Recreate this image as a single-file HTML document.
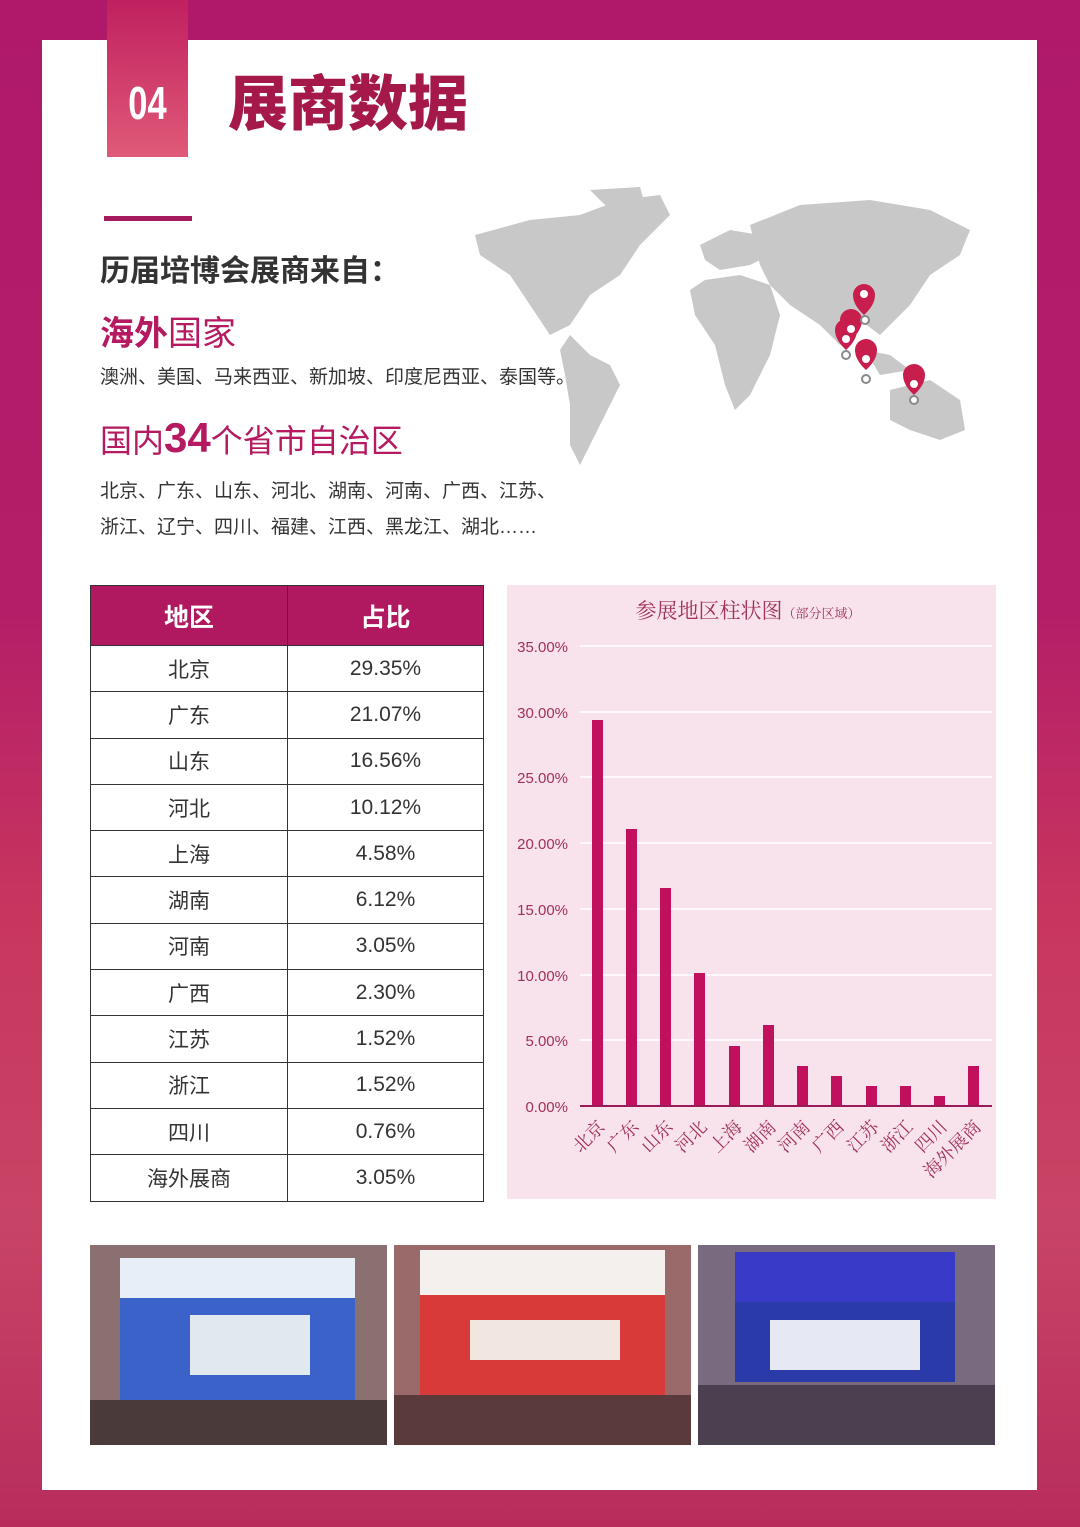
<!DOCTYPE html>
<html><head><meta charset="utf-8"><style>
*{margin:0;padding:0;box-sizing:border-box}
body{width:1080px;height:1527px;position:relative;overflow:hidden;font-family:"Liberation Sans","Noto Sans CJK SC",sans-serif;background:linear-gradient(180deg,#b0196a 0%,#b41e68 40%,#c8365e 60%,#c84466 80%,#b82c5c 100%)}
.panel{position:absolute;left:42px;top:40px;width:995px;height:1450px;background:#fff}
.abs{position:absolute}
table{border-collapse:collapse;position:absolute;left:90px;top:585px;width:393px;table-layout:fixed}
td,th{border:1px solid #333;text-align:center;font-size:21px;color:#333;height:46.3px;font-weight:normal}
th{background:#b0185f;color:#fff;font-weight:bold;font-size:25px;height:60px}
</style></head><body>
<div class="panel"></div>
<div class="abs" style="left:107px;top:0;width:81px;height:157px;background:linear-gradient(180deg,#c0205f,#e05a78)"></div>
<div class="abs" style="left:107px;top:76px;width:81px;text-align:center;color:#fff;font-size:46px;font-weight:bold;transform:scaleX(0.75)">04</div>
<div class="abs" style="left:228px;top:56px;font-size:60px;font-weight:900;color:#a5184a;letter-spacing:0px">展商数据</div>
<div class="abs" style="left:104px;top:216px;width:88px;height:5px;background:#a51a5c"></div>
<div class="abs" style="left:100px;top:246px;font-size:30px;font-weight:bold;color:#333">历届培博会展商来自：</div>
<div class="abs" style="left:100px;top:306px;font-size:34px;color:#b5195f"><b>海外</b>国家</div>
<div class="abs" style="left:100px;top:362px;font-size:19px;color:#333">澳洲、美国、马来西亚、新加坡、印度尼西亚、泰国等。</div>
<div class="abs" style="left:100px;top:414px;font-size:32px;color:#b5195f">国内<b style="font-size:42px">34</b>个省市自治区</div>
<div class="abs" style="left:100px;top:474px;font-size:19px;color:#333;line-height:36px">北京、广东、山东、河北、湖南、河南、广西、江苏、<br>浙江、辽宁、四川、福建、江西、黑龙江、湖北……</div>
<svg class="abs" style="left:470px;top:185px" width="520" height="290" viewBox="0 0 520 290">
<g fill="#c8c8c8">
<path d="M5 50 L60 35 L110 30 L150 15 L190 10 L200 30 L170 60 L150 90 L120 110 L100 140 L80 150 L60 120 L40 90 L10 70Z"/>
<path d="M120 5 L170 2 L175 20 L140 25Z"/>
<path d="M100 150 L120 170 L140 180 L150 200 L140 220 L120 260 L110 280 L100 260 L100 220 L95 190 L90 165Z"/>
<path d="M230 60 L260 45 L290 50 L300 70 L280 80 L250 85 L235 75Z"/>
<path d="M235 95 L270 90 L300 100 L310 130 L300 170 L280 210 L265 225 L255 200 L245 160 L225 130 L220 105Z"/>
<path d="M280 40 L330 20 L400 15 L460 25 L500 45 L490 70 L460 90 L440 120 L410 150 L390 135 L370 160 L350 140 L320 120 L300 100 L290 80Z"/>
<path d="M420 205 L460 195 L490 215 L495 245 L470 255 L440 245 L420 235Z"/>
<path d="M395 165 L420 170 L440 185 L410 190Z"/>
</g>
<g fill="#c81e4e">
<path d="M383 110 a11 11 0 1 1 22 0 q0 10 -11 20 q-11 -10 -11 -20z"/>
<path d="M370 135 a11 11 0 1 1 22 0 q0 10 -11 20 q-11 -10 -11 -20z"/>
<path d="M365 145 a11 11 0 1 1 22 0 q0 10 -11 20 q-11 -10 -11 -20z"/>
<path d="M385 165 a11 11 0 1 1 22 0 q0 10 -11 20 q-11 -10 -11 -20z"/>
<path d="M433 190 a11 11 0 1 1 22 0 q0 10 -11 20 q-11 -10 -11 -20z"/>
</g>
<g fill="#fff"><circle cx="394" cy="109" r="4"/><circle cx="381" cy="144" r="4"/><circle cx="376" cy="154" r="4"/><circle cx="396" cy="174" r="4"/><circle cx="444" cy="199" r="4"/></g>
<g fill="#fff" stroke="#888" stroke-width="2"><circle cx="395" cy="135" r="4"/><circle cx="376" cy="170" r="4"/><circle cx="396" cy="194" r="4"/><circle cx="444" cy="215" r="4"/></g>
</svg>
<table>
<colgroup><col style="width:197px"><col style="width:196px"></colgroup>
<tr><th>地区</th><th>占比</th></tr>
<tr><td>北京</td><td>29.35%</td></tr>
<tr><td>广东</td><td>21.07%</td></tr>
<tr><td>山东</td><td>16.56%</td></tr>
<tr><td>河北</td><td>10.12%</td></tr>
<tr><td>上海</td><td>4.58%</td></tr>
<tr><td>湖南</td><td>6.12%</td></tr>
<tr><td>河南</td><td>3.05%</td></tr>
<tr><td>广西</td><td>2.30%</td></tr>
<tr><td>江苏</td><td>1.52%</td></tr>
<tr><td>浙江</td><td>1.52%</td></tr>
<tr><td>四川</td><td>0.76%</td></tr>
<tr><td>海外展商</td><td>3.05%</td></tr>
</table>
<svg class="abs" style="left:0;top:0" width="1080" height="1527">
<rect x="507" y="585" width="489" height="614" fill="#f8e3ec"/>
<text x="748" y="618" font-size="21" fill="#a0305c" text-anchor="middle" font-family="Liberation Serif,Noto Serif CJK SC,serif">参展地区柱状图<tspan font-size="13">（部分区域）</tspan></text>
<g stroke="#fff" stroke-width="1.5">
<line x1="580" x2="992" y1="646" y2="646"/><line x1="580" x2="992" y1="712" y2="712"/><line x1="580" x2="992" y1="777" y2="777"/><line x1="580" x2="992" y1="843" y2="843"/><line x1="580" x2="992" y1="909" y2="909"/><line x1="580" x2="992" y1="975" y2="975"/><line x1="580" x2="992" y1="1040" y2="1040"/>
</g>
<g font-size="15" fill="#a0305c" text-anchor="end" font-family="Liberation Sans,sans-serif">
<text x="568" y="652">35.00%</text><text x="568" y="718">30.00%</text><text x="568" y="783">25.00%</text><text x="568" y="849">20.00%</text><text x="568" y="915">15.00%</text><text x="568" y="981">10.00%</text><text x="568" y="1046">5.00%</text><text x="568" y="1112">0.00%</text>
</g>
<g fill="#c0105e">
<rect x="592" y="720" width="11" height="386"/>
<rect x="626" y="829" width="11" height="277"/>
<rect x="660" y="888" width="11" height="218"/>
<rect x="694" y="973" width="11" height="133"/>
<rect x="729" y="1046" width="11" height="60"/>
<rect x="763" y="1025" width="11" height="81"/>
<rect x="797" y="1066" width="11" height="40"/>
<rect x="831" y="1076" width="11" height="30"/>
<rect x="866" y="1086" width="11" height="20"/>
<rect x="900" y="1086" width="11" height="20"/>
<rect x="934" y="1096" width="11" height="10"/>
<rect x="968" y="1066" width="11" height="40"/>
</g>
<line x1="580" x2="992" y1="1106" y2="1106" stroke="#9a1a5a" stroke-width="2"/>
<g font-size="18" fill="#a0305c" text-anchor="end" font-family="Liberation Serif,Noto Serif CJK SC,serif">
<text transform="translate(606,1128) rotate(-45)">北京</text>
<text transform="translate(640,1128) rotate(-45)">广东</text>
<text transform="translate(674,1128) rotate(-45)">山东</text>
<text transform="translate(708,1128) rotate(-45)">河北</text>
<text transform="translate(743,1128) rotate(-45)">上海</text>
<text transform="translate(777,1128) rotate(-45)">湖南</text>
<text transform="translate(811,1128) rotate(-45)">河南</text>
<text transform="translate(845,1128) rotate(-45)">广西</text>
<text transform="translate(880,1128) rotate(-45)">江苏</text>
<text transform="translate(914,1128) rotate(-45)">浙江</text>
<text transform="translate(948,1128) rotate(-45)">四川</text>
<text transform="translate(982,1128) rotate(-45)">海外展商</text>
</g>
<g>
<rect x="90" y="1245" width="297" height="200" fill="#8a7070"/>
<rect x="120" y="1258" width="235" height="40" fill="#e8eef8"/>
<rect x="120" y="1298" width="235" height="110" fill="#3a62c8"/>
<rect x="190" y="1315" width="120" height="60" fill="#e0e8f0"/>
<rect x="90" y="1400" width="297" height="45" fill="#4a3a3a"/>
<rect x="394" y="1245" width="297" height="200" fill="#9a6a6a"/>
<rect x="420" y="1250" width="245" height="45" fill="#f4f0ee"/>
<rect x="420" y="1295" width="245" height="100" fill="#d83a3a"/>
<rect x="470" y="1320" width="150" height="40" fill="#f2e6e0"/>
<rect x="394" y="1395" width="297" height="50" fill="#5a3a3a"/>
<rect x="698" y="1245" width="297" height="200" fill="#7a6a80"/>
<rect x="735" y="1252" width="220" height="50" fill="#3a3ac8"/>
<rect x="735" y="1302" width="220" height="80" fill="#2a3aa8"/>
<rect x="770" y="1320" width="150" height="50" fill="#e6e8f4"/>
<rect x="698" y="1385" width="297" height="60" fill="#4a4050"/>
</g>
</svg>
</body></html>
